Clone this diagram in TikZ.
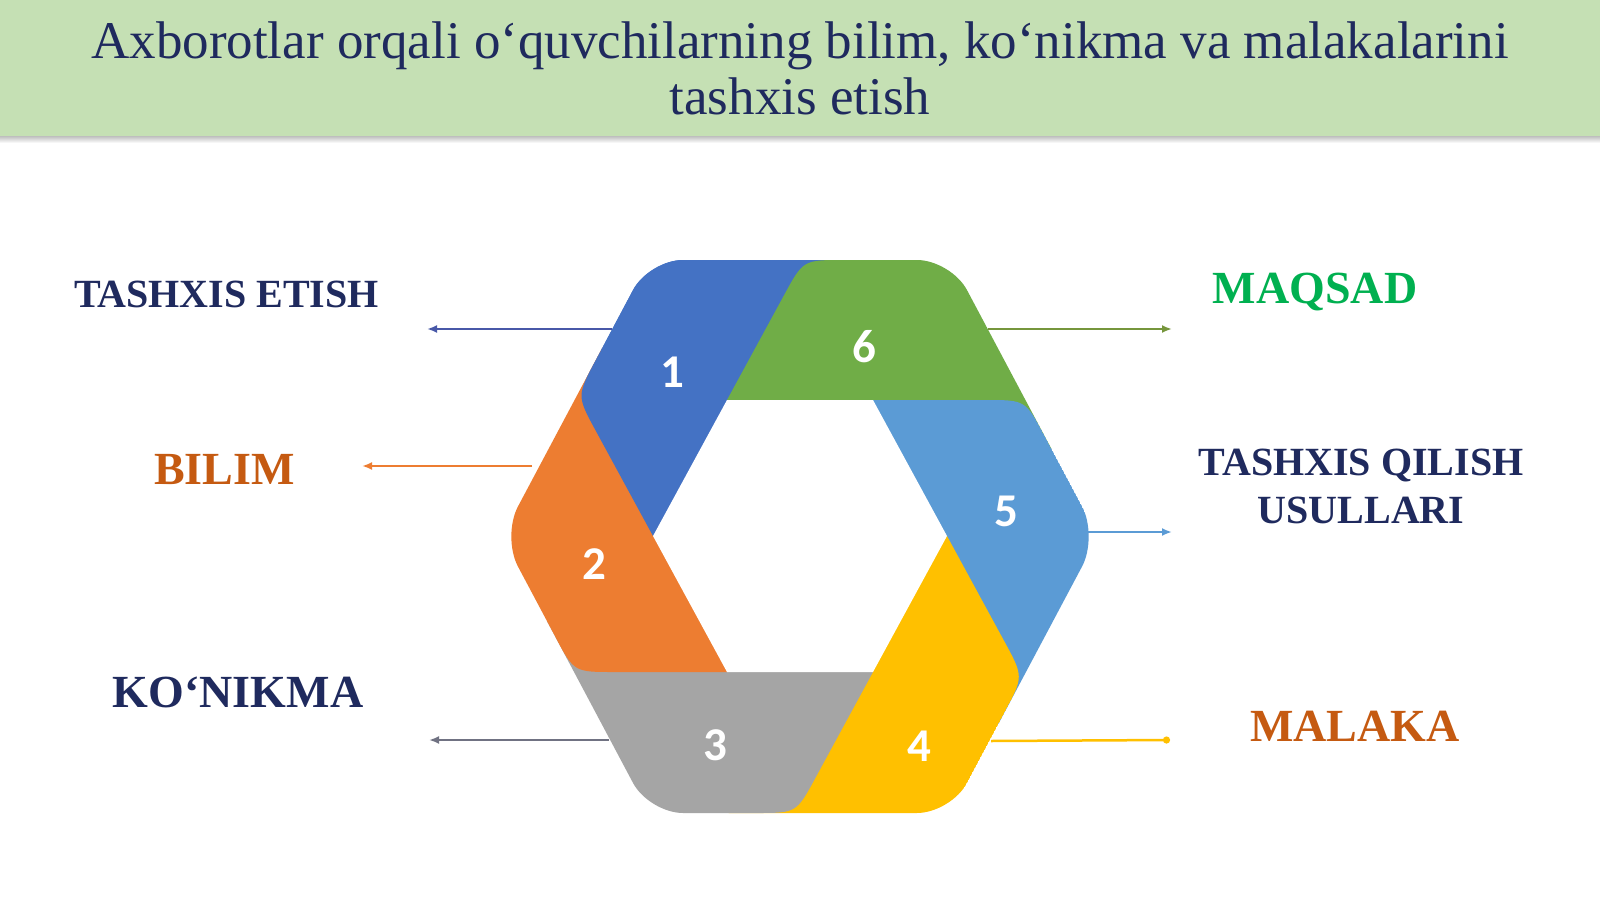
\documentclass[tikz,border=0pt]{standalone}
\usepackage{fontspec}
\setmainfont{Liberation Serif}
\newfontfamily\numfont{Carlito}
\usetikzlibrary{calc,arrows.meta}
\definecolor{titlebg}{RGB}{197,224,180}
\definecolor{navy}{RGB}{31,42,94}
\definecolor{cBlueA}{RGB}{68,114,196}
\definecolor{cOrange}{RGB}{237,125,49}
\definecolor{cGray}{RGB}{165,165,165}
\definecolor{cYellow}{RGB}{255,192,0}
\definecolor{cBlueB}{RGB}{91,155,213}
\definecolor{cGreen}{RGB}{112,173,71}
\definecolor{lblGreen}{RGB}{0,176,80}
\definecolor{lblOrange}{RGB}{197,90,17}
\definecolor{arBlue}{RGB}{72,88,168}
\definecolor{arGray}{RGB}{112,114,130}
\definecolor{arGreen}{RGB}{118,150,60}
\begin{document}
\begin{tikzpicture}[x=0.5pt,y=-0.5pt,
  lblbig/.style={font=\bfseries\fontsize{23}{26}\selectfont,anchor=base,inner sep=0pt},
  lblsmall/.style={font=\bfseries\fontsize{20}{24}\selectfont,anchor=base,inner sep=0pt},
  num/.style={font=\numfont\bfseries\fontsize{23.5}{26}\selectfont,text=white,inner sep=0pt},
  conn/.style={line width=1.25pt},
  tipA/.style={-{Latex[length=5pt,width=4pt]}},
  tipO/.style={-{Circle[length=3.5pt]}},
  titletext/.style={font=\fontsize{26.5}{30}\selectfont,text=navy,anchor=base,inner sep=0pt}
]
\useasboundingbox (0,0) rectangle (1600,899);
\fill[white] (0,0) rectangle (1600,899);
\fill[titlebg] (0,0) rectangle (1600,137);
\shade[top color=black!22, bottom color=white] (0,137) rectangle (1600,143);

% title
\node[titletext] (title1) at (800,59) {Axborotlar orqali o‘quvchilarning bilim, ko‘nikma va malakalarini};
\node[titletext] (title2) at (800,115) {tashxis etish};

% outer hexagon
\coordinate (OTL) at (649,260);
\coordinate (OTR) at (951,260);
\coordinate (OR) at (1098,536.5);
\coordinate (OBR) at (951,813);
\coordinate (OBL) at (649,813);
\coordinate (OL) at (502,536.5);
% inner hexagon
\coordinate (ITL) at (727,400);
\coordinate (ITR) at (873,400);
\coordinate (IR) at (947,536);
\coordinate (IBR) at (873,672);
\coordinate (IBL) at (727,672);
\coordinate (IL) at (653,536);
% head corners
\coordinate (A) at (576.8,395.9);
\coordinate (C) at (574,672);
\coordinate (Cp) at (796.3,813);
\coordinate (D) at (1023.5,676.6);
\coordinate (E) at (1025.4,400);
\coordinate (P) at (803.2,260);
% outside helpers
\coordinate (X1) at ($(A)!1.5!(OTL)$);
\coordinate (X6) at ($(E)!1.6!(OR)$);
\coordinate (X10) at ($(D)!1.6!(OBR)$);
\coordinate (X18) at ($(C)!1.5!(OL)$);

\begin{scope}
\clip[rounded corners=17pt] (OTL) -- (OTR) -- (OR) -- (OBR) -- (OBL) -- (OL) -- cycle;
% 1 blue (bottom layer)
\fill[cBlueA] (IL) -- ($(A)!20pt!(IL)$) .. controls (A) .. ($(A)!20pt!(OTL)$) -- (X1) -- (850,200) -- (850,300) -- (760,420) -- cycle;
% 6 green
\fill[cGreen] (ITL) -- ($(P)!20pt!(ITL)$) .. controls (P) .. ($(P)!20pt!(OTR)$) -- (1000,260) -- (1150,460) -- (880,430) -- cycle;
% 5 light blue
\fill[cBlueB] (ITR) -- ($(E)!20pt!(ITR)$) .. controls (E) .. ($(E)!20pt!(OR)$) -- (X6) -- (1080,800) -- (930,660) -- (880,560) -- cycle;
% 4 yellow
\fill[cYellow] (IR) -- ($(D)!20pt!(IR)$) .. controls (D) .. ($(D)!20pt!(OBR)$) -- (X10) -- (700,880) -- (760,740) -- (850,640) -- cycle;
% 3 gray
\fill[cGray] (IBR) -- ($(Cp)!20pt!(IBR)$) .. controls (Cp) .. ($(Cp)!20pt!(OBL)$) -- (560,813) -- (480,640) -- (620,600) -- (700,560) -- cycle;
% 2 orange
\fill[cOrange] (IBL) -- ($(C)!20pt!(IBL)$) .. controls (C) .. ($(C)!20pt!(OL)$) -- (X18) -- (500,260) -- (640,380) -- (700,530) -- cycle;
% 1 blue again, over orange
\begin{scope}
\clip (0,0) rectangle (700,899);
\fill[cBlueA] (IL) -- ($(A)!20pt!(IL)$) .. controls (A) .. ($(A)!20pt!(OTL)$) -- (X1) -- (850,200) -- (850,300) -- (760,420) -- cycle;
\end{scope}
% hole
\fill[white] (ITL) -- (ITR) -- (IR) -- (IBR) -- (IBL) -- (IL) -- cycle;
\end{scope}

% numbers
\node[num] (n1) at (672,372) {1};
\node[num] (n2) at (594,564) {2};
\node[num] (n3) at (715,745) {3};
\node[num] (n4) at (919,746) {4};
\node[num] (n5) at (1006,511) {5};
\node[num] (n6) at (864,347) {6};

% labels
\node[lblsmall,text=navy] (lTE) at (226.5,307) {TASHXIS ETISH};
\node[lblbig,text=lblGreen] (lMQ) at (1315,303) {MAQSAD};
\node[lblbig,text=lblOrange] (lBL) at (224.5,484) {BILIM};
\node[lblsmall,text=navy] (lTQa) at (1361,475.5) {TASHXIS QILISH};
\node[lblsmall,text=navy] (lTQb) at (1361,523.5) {USULLARI};
\node[lblbig,text=navy] (lKN) at (238,707) {KO‘NIKMA};
\node[lblbig,text=lblOrange] (lML) at (1355,741) {MALAKA};

% connectors
\coordinate (s1) at (612,329);  \coordinate (e1) at (427,329);
\coordinate (s2) at (532,466);  \coordinate (e2) at (362,466);
\coordinate (s3) at (609,740);  \coordinate (e3) at (429,740);
\coordinate (s6) at (988,329);  \coordinate (e6) at (1172,329);
\coordinate (s5) at (1088,532); \coordinate (e5) at (1172,532);
\coordinate (s4) at (991,741);  \coordinate (e4) at (1170,740);
\draw[conn,arBlue,tipA] (s1) -- (e1);
\draw[conn,cOrange,tipA] (s2) -- (e2);
\draw[conn,arGray,tipA] (s3) -- (e3);
\draw[conn,arGreen,tipA] (s6) -- (e6);
\draw[conn,cBlueB,tipA] (s5) -- (e5);
\draw[conn,cYellow,tipO] (s4) -- (e4);
\end{tikzpicture}
\end{document}
